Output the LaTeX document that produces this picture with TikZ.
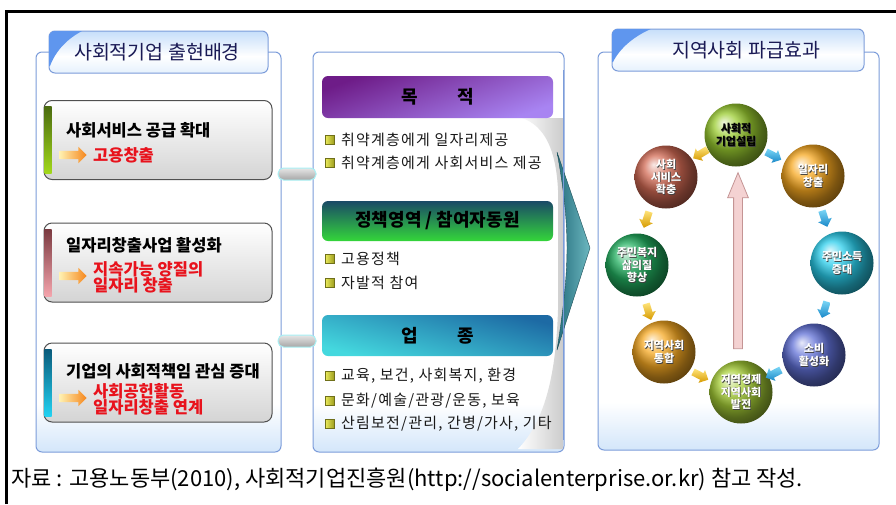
\documentclass[tikz,border=0pt]{standalone}
\usepackage{fontspec}
\setmainfont{Noto Sans CJK KR}
\usetikzlibrary{shapes.arrows,calc,shadings}

\definecolor{pborder}{HTML}{7C9CDA}
\definecolor{pblue}{HTML}{D3E6FA}
\definecolor{tabblue}{HTML}{C6DEFA}
\definecolor{tabbot}{HTML}{E6F1FD}
\definecolor{tricol}{HTML}{5F96EE}
\definecolor{titletxt}{HTML}{1A1A55}
\definecolor{boxline}{HTML}{505050}
\definecolor{boxgray}{HTML}{D4D4D4}
\definecolor{redtxt}{HTML}{E8121C}
\definecolor{oarrA}{HTML}{FFF0B0}
\definecolor{oarrB}{HTML}{F5861C}
\definecolor{pillA}{HTML}{E6E6E6}
\definecolor{pillB}{HTML}{A6A6A6}
\definecolor{pillglow}{HTML}{A8F0F4}
\definecolor{purA}{HTML}{6E1C88}
\definecolor{purB}{HTML}{A884F2}
\definecolor{grnA}{HTML}{1A4A66}
\definecolor{grnB}{HTML}{34D63A}
\definecolor{cyaA}{HTML}{1D6AA4}
\definecolor{cyaB}{HTML}{44D8DE}
\definecolor{bulA}{HTML}{E8E85A}
\definecolor{bulB}{HTML}{9A9A1C}
\definecolor{bulD}{HTML}{70701A}
\definecolor{tealA}{HTML}{276F7E}
\definecolor{tealB}{HTML}{6CB8C0}
\definecolor{yarA}{HTML}{FFE47A}
\definecolor{yarB}{HTML}{D69A00}
\definecolor{barA}{HTML}{7AD6F6}
\definecolor{barB}{HTML}{1A88C8}
\definecolor{pinkA}{HTML}{F4D2D2}
\definecolor{pinkD}{HTML}{C49494}
\definecolor{cS}{HTML}{9ACC30}
\definecolor{cJ}{HTML}{F7A820}
\definecolor{cR}{HTML}{D26A54}
\definecolor{cG}{HTML}{22B060}
\definecolor{cC}{HTML}{2ACDEB}
\definecolor{cO}{HTML}{F5A822}
\definecolor{cB}{HTML}{6070D6}
\definecolor{cL}{HTML}{A6CE36}
\definecolor{barG1}{HTML}{4A6A10}
\definecolor{barG2}{HTML}{A2D81A}
\definecolor{barM1}{HTML}{7A3A40}
\definecolor{barM2}{HTML}{F4A4AC}
\definecolor{barT1}{HTML}{0A5A7A}
\definecolor{barT2}{HTML}{22D2F2}

\pgfdeclareverticalshading{panelshade}{100bp}{color(0bp)=(pblue); color(25bp)=(pblue); color(31bp)=(white); color(100bp)=(white)}
\pgfdeclareverticalshading{tabshade}{100bp}{color(0bp)=(tabbot); color(25bp)=(tabbot); color(45bp)=(white); color(75bp)=(tabblue); color(100bp)=(tabblue)}

\newcommand\sphr[6]{%
  \node[sph, ball color=#4] (#1) at (#2,#3) {};
  \node[ssh] (#1s) at ($(#1)+(0.8,0.8)$) {#5};
  \node[stxt, text=#6] (#1t) at (#1) {#5};}

\tikzset{
  panel/.style={draw=pborder, line width=1, rounded corners=6, shading=panelshade},
  tab/.style={draw=pborder, line width=1, rounded corners=6, shading=tabshade, minimum height=42},
  tabtxt/.style={font=\fontsize{19.5}{19.5}\selectfont, text=titletxt, inner sep=0},
  lbox/.style={draw=boxline, line width=1, rounded corners=8, top color=white, bottom color=boxgray, minimum width=228, minimum height=79},
  bhead/.style={anchor=west, font=\fontsize{16.5}{16.5}\selectfont\bfseries, inner sep=0},
  redt/.style={anchor=west, align=left, font=\fontsize{16.5}{16.5}\selectfont\bfseries, text=redtxt, inner sep=0},
  oarr/.style={single arrow, minimum height=27, single arrow head extend=4, inner sep=4, left color=oarrA, right color=oarrB},
  pill/.style={rounded corners=5.5, minimum width=38, minimum height=12, draw=pillglow, line width=1, top color=pillA, bottom color=pillB},
  hdr/.style={rounded corners=6, minimum width=231, font=\fontsize{18}{18}\selectfont\bfseries},
  bul/.style={minimum size=9, inner sep=0, draw=bulD, line width=0.4, left color=bulA, right color=bulB},
  item/.style={anchor=west, font=\fontsize{15}{15}\selectfont\addfontfeature{LetterSpace=8}, inner sep=0, text=black!90},
  sph/.style={circle, minimum size=63, inner sep=0},
  stxt/.style={align=center, font=\fontsize{11}{12.5}\selectfont\bfseries, inner sep=0},
  ssh/.style={stxt, text=black!75},
  yarr/.style={single arrow, minimum height=17, single arrow head extend=3.5, inner sep=3.5, top color=yarA, bottom color=yarB},
  barr/.style={single arrow, minimum height=17, single arrow head extend=3.5, inner sep=3.5, top color=barA, bottom color=barB},
  bigarr/.style={single arrow, single arrow head extend=6, single arrow tip angle=45, inner sep=4, fill=pinkA, draw=pinkD, line width=0.8},
}

\begin{document}
\begin{tikzpicture}[x=1pt,y=-1pt]
\useasboundingbox (0,0) rectangle (896,504);
\fill[white] (0,0) rectangle (896,504);

% outer frame
\draw[line width=3] (6.5,504) -- (6.5,11.5) -- (896,11.5);

% panels
\node[panel, minimum width=245, minimum height=400] (lp) at (158.5,252) {};
\node[panel, minimum width=251, minimum height=400] (mp) at (438.5,252) {};
\node[panel, minimum width=281, minimum height=398] (rp) at (738.5,251) {};

% tabs
\node[tab, minimum width=219] (lt) at (158.5,52) {};
\begin{scope}
  \clip[rounded corners=6] (49,31) rectangle (268,73);
  \fill[tricol] (48,30) -- (84,30) .. controls (68,38) and (56,50) .. (50,66) -- (48,66) -- cycle;
\end{scope}
\node[tabtxt] (ltt) at (157,52) {사회적기업 출현배경};

\node[tab, minimum width=252] (rt) at (738,50) {};
\begin{scope}
  \clip[rounded corners=6] (612,29) rectangle (864,71);
  \fill[tricol] (611,28) -- (653,28) .. controls (634,36) and (620,48) .. (613,62) -- (611,62) -- cycle;
\end{scope}
\node[tabtxt] (rtt) at (746,50) {지역사회 파급효과};

% left boxes
\node[lbox] (b1) at (158,140) {};
\node[lbox] (b2) at (158,262.5) {};
\node[lbox] (b3) at (158,382.5) {};
\shade[top color=barG1, bottom color=barG2] (44.5,106) rectangle (51.5,173);
\shade[top color=barM1, bottom color=barM2] (44.5,229) rectangle (51.5,296);
\shade[top color=barT1, bottom color=barT2] (44.5,349) rectangle (51.5,416);

\node[bhead] (b1h) at (66,130) {사회서비스 공급 확대};
\node[oarr] (b1a) at (71,155) {};
\node[redt] (b1r) at (93,155) {고용창출};

\node[bhead] (b2h) at (66,245) {일자리창출사업 활성화};
\node[oarr] (b2a) at (71,276) {};
\node[redt] (b2r) at (93,277.5) {지속가능 양질의\\일자리 창출};

\node[bhead] (b3h) at (66,371) {기업의 사회적책임 관심 증대};
\node[oarr] (b3a) at (71,398) {};
\node[redt] (b3r) at (93,399.5) {사회공헌활동\\일자리창출 연계};

% pill connectors
\coordinate (gap) at ($(lp.east)!0.5!(mp.west)$);
\coordinate (g1) at (0,174);
\coordinate (g2) at (0,341);
\node[pill] (p1) at (gap |- g1) {};
\node[pill] (p2) at (gap |- g2) {};

% curl and big teal arrow
\shade[left color=white, right color=gray!40] (522,118) .. controls (545,126) and (556,150) .. (558,190) -- (558,310) .. controls (556,372) and (546,420) .. (518,449) -- (563,449) -- (563,118) -- cycle;
\shade[left color=tealA, right color=tealB, draw=tealA!70!black, line width=0.4] (557,152) -- (590,248) -- (557,350) .. controls (565,300) and (567,270) .. (567,248) .. controls (567,225) and (565,195) .. (557,152) -- cycle;
\draw[pborder, line width=1] (563.5,70) -- (563.5,440);

% middle headers
\node[hdr, minimum height=42, top color=purA, bottom color=purB, shading angle=20] (h1) at (437.5,97) {목\hspace{2.2em}적};
\node[hdr, minimum height=40, top color=grnA, bottom color=grnB] (h2) at (437.5,221) {정책영역 / 참여자동원};
\node[hdr, minimum height=41, top color=cyaA, bottom color=cyaB, shading angle=-15] (h3) at (437.5,335.5) {업\hspace{2.2em}종};

% bullets
\node[bul] (u1) at (330,140) {}; \node[item] (i1) at (341,140) {취약계층에게 일자리제공};
\node[bul] (u2) at (330,163) {}; \node[item] (i2) at (341,163) {취약계층에게 사회서비스 제공};
\node[bul] (u3) at (330,259) {}; \node[item] (i3) at (341,259) {고용정책};
\node[bul] (u4) at (330,283) {}; \node[item] (i4) at (341,283) {자발적 참여};
\node[bul] (u5) at (330,376) {}; \node[item] (i5) at (341,376) {교육, 보건, 사회복지, 환경};
\node[bul] (u6) at (330,401) {}; \node[item] (i6) at (341,401) {문화/예술/관광/운동, 보육};
\node[bul] (u7) at (330,424) {}; \node[item] (i7) at (341,424) {산림보전/관리, 간병/가사, 기타};

% spheres
\sphr{s1}{736}{135}{cS}{사회적\\기업설립}{black}
\sphr{s2}{813}{176}{cJ}{일자리\\창출}{white}
\sphr{s3}{666}{177}{cR}{사회\\서비스\\확충}{white}
\sphr{s4}{637}{265}{cG}{주민복지\\삶의질\\향상}{white}
\sphr{s5}{842}{263}{cC}{주민소득\\증대}{white}
\sphr{s6}{664}{352}{cO}{지역사회\\통합}{white}
\sphr{s7}{814}{355}{cB}{소비\\활성화}{white}
\sphr{s8}{741}{392}{cL}{지역경제\\지역사회\\발전}{white}

% big pink arrow
\coordinate (pa) at (738,354);
\coordinate (pb) at (738,178);
\node[bigarr, rotate=90, minimum height=176] (ba) at ($(pa)!0.5!(pb)$) {};

% small arrows
\node[yarr, rotate=211] (y1) at (702,153) {};
\node[yarr, rotate=252] (y2) at (647,218) {};
\node[yarr, rotate=287] (y3) at (648,310) {};
\node[yarr, rotate=333] (y4) at (699,375) {};
\node[barr, rotate=333] (a1) at (772,155) {};
\node[barr, rotate=288] (a2) at (824,217) {};
\node[barr, rotate=253] (a3) at (825,308) {};
\node[barr, rotate=207] (a4) at (775,373) {};

% caption
\node[anchor=west, inner sep=0, font=\fontsize{22}{22}\selectfont] (cap) at (11,480) {자료 : 고용노동부(2010), 사회적기업진흥원(http://socialenterprise.or.kr) 참고 작성.};
\end{tikzpicture}
\end{document}
